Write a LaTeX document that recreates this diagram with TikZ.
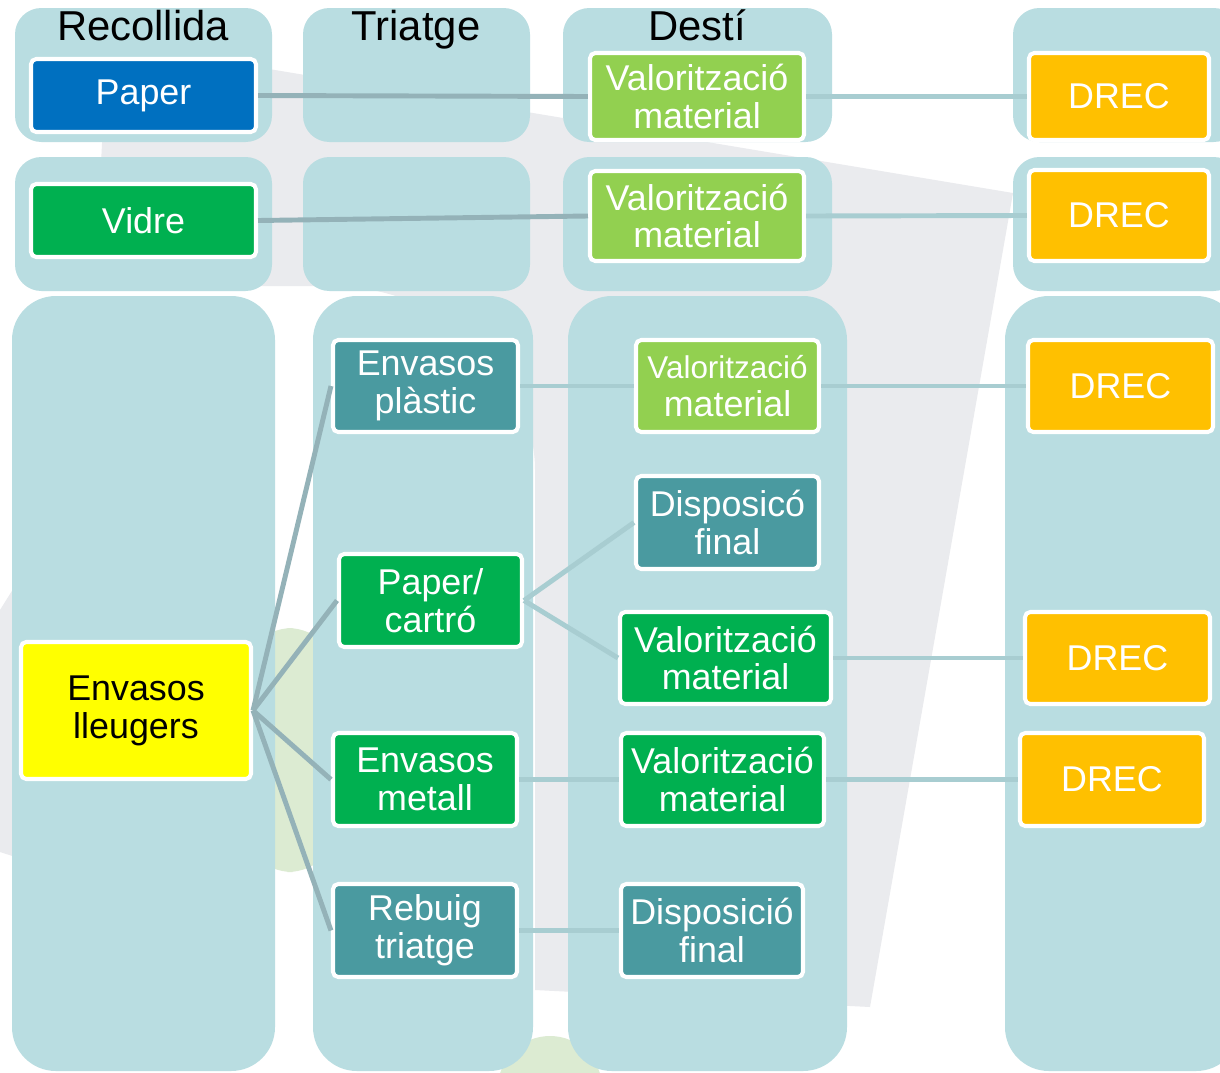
\documentclass[tikz,border=0pt]{standalone}
\usepackage{fontspec}
\setmainfont{Liberation Sans}
\definecolor{pnl}{RGB}{185,221,225}
\definecolor{blu}{RGB}{0,112,192}
\definecolor{grn}{RGB}{0,176,80}
\definecolor{lgrn}{RGB}{146,208,80}
\definecolor{gold}{RGB}{255,192,0}
\definecolor{teal}{RGB}{74,154,160}
\definecolor{yel}{RGB}{255,255,0}
\definecolor{lnkA}{RGB}{148,178,184}
\definecolor{lnkB}{RGB}{168,205,209}
\definecolor{wm}{RGB}{234,235,238}
\definecolor{wmg}{RGB}{220,235,210}
\begin{document}
\begin{tikzpicture}[x=0.02cm,y=-0.02cm,
    bx/.style={draw=white,line width=2.3pt,rounded corners=3pt,text=white,
      align=center,inner sep=0pt,font=\fontsize{20.4}{21.5}\selectfont},
    ttl/.style={anchor=base,font=\fontsize{23.8}{25}\selectfont},
    lk/.style={draw=lnkA,line width=2.8pt},
    lkl/.style={draw=lnkB,line width=2.8pt}]
    \def\pn(#1,#2)(#3,#4)#5{\fill[pnl,rounded corners=#5] (#1,#2) rectangle (#3,#4);}
    \def\bx(#1,#2)(#3,#4)#5#6#7{
      \pgfmathsetmacro\ww{(#3-#1-4)*0.02}
      \pgfmathsetmacro\hh{(#4-#2-4)*0.02}
      \node[bx,fill=#5,minimum width=\ww cm,minimum height=\hh cm] (#6) at ({(#1+#3)/2},{(#2+#4)/2}) {#7};
    }
    \useasboundingbox (0,0) rectangle (1220,1072);
    \clip (0,0) rectangle (1220,1072);
    \fill[white] (0,0) rectangle (1220,1072);
    \fill[wm] (107,42) -- (1013,193) -- (870,1007) -- (535,990) -- (535,470)
      .. controls (535,380) and (450,286) .. (330,286) -- (95,286) -- cycle;
    \fill[wm] (0,610) -- (25,570) -- (25,860) -- (0,852) -- cycle;
    \fill[wmg,rounded corners=30] (240,628) rectangle (340,872);
    \fill[wmg] (550,1088) circle (52);
    \foreach \a/\b in {15/272,303/530,563/832,1013/1240} {
      \pn(\a,8)(\b,142){15}
      \pn(\a,157)(\b,291){15}
    }
    \pn(12,296)(275,1071){25}
    \pn(313,296)(533,1071){25}
    \pn(568,296)(847,1071){25}
    \pn(1005,296)(1240,1071){25}
    \node[ttl] (trec) at (143,40) {Recollida};
    \node[ttl] (ttri) at (416,40) {Triatge};
    \node[ttl] (tdes) at (697,40) {Destí};
    \bx(29,57)(258,134){blu}{paper}{Paper}
    \bx(29,182)(258,259){grn}{vidre}{Vidre}
    \bx(588,51)(806,142){lgrn}{val1}{Valorització\\material}
    \bx(588,169)(806,263){lgrn}{val2}{Valorització\\material}
    \bx(1027,51)(1211,142){gold}{drec1}{DREC}
    \bx(1027,168)(1211,263){gold}{drec2}{DREC}
    \bx(19,640)(253,781){yel,text=black}{lleug}{Envasos\\lleugers}
    \bx(331,338)(520,434){teal}{plast}{Envasos\\plàstic}
    \bx(337,552)(524,649){grn}{cartro}{Paper/\\cartró}
    \bx(331,731)(519,828){grn}{metall}{Envasos\\metall}
    \bx(331,882)(519,979){teal}{rebuig}{Rebuig\\triatge}
    \bx(634,338)(821,434){lgrn}{val3}{{\fontsize{17.9}{21.5}\selectfont Valorització}\\material}
    \bx(634,474)(821,571){teal}{disp1}{Disposicó\\final}
    \bx(618,610)(833,706){grn}{val4}{Valorització\\material}
    \bx(619,731)(826,828){grn}{val5}{Valorització\\material}
    \bx(619,882)(805,979){teal}{disp2}{Disposició\\final}
    \bx(1026,338)(1215,434){gold}{drec3}{DREC}
    \bx(1023,610)(1212,706){gold}{drec4}{DREC}
    \bx(1018,731)(1206,828){gold}{drec5}{DREC}
    \draw[lk] (paper.east) -- (val1.west);
    \draw[lk] (vidre.east) -- (val2.west);
    \foreach \b in {plast,cartro,metall,rebuig}
      \draw[lk] (lleug.east) -- (\b.west);
    \foreach \b in {disp1,val4}
      \draw[lkl] (cartro.east) -- (\b.west);
    \foreach \a/\b in {val1/drec1,val2/drec2,plast/val3,val3/drec3,val4/drec4,metall/val5,val5/drec5,rebuig/disp2}
      \draw[lkl] (\a.east) -- (\b.west);
  \end{tikzpicture}
\end{document}
